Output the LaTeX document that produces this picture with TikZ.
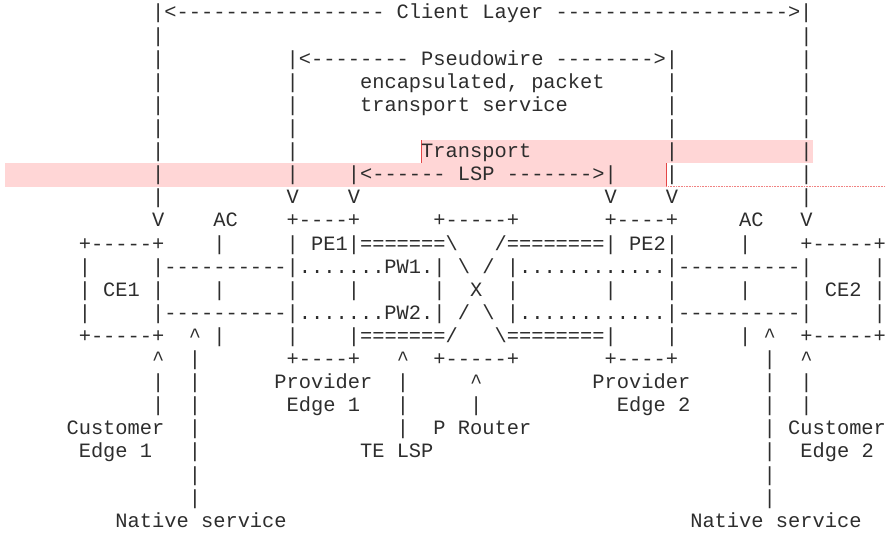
\documentclass[tikz,border=0pt]{standalone}
\usepackage{fontspec}
\setmonofont{Liberation Mono}[Ligatures=TeXOff]

\definecolor{inkgray}{RGB}{45,45,45}
\definecolor{markpink}{RGB}{255,214,214}
\definecolor{markred}{RGB}{228,70,70}
\definecolor{markline}{RGB}{240,130,130}

% one character cell of the monospaced grid
\newcommand\cellw{12.23}
\newcommand\rowh{23.1}
% \seg{row}{column}{text}: text starting in a grid cell, on that row's baseline
\newcommand\seg[3]{\node[ascii] (r#1c#2) at ({5.4+#2*\cellw},{19+(#1-1)*\rowh}) {#3};}
\newcommand\bs{\textbackslash}
\newcommand\up{\textasciicircum}

\begin{document}
\begin{tikzpicture}[x=1pt,y=-1pt,
  ascii/.style={anchor=base west,inner sep=0pt,outer sep=0pt,text=inkgray,
    font=\ttfamily\fontsize{20.38}{23.1}\selectfont}]
\useasboundingbox (0,0) rectangle (886,535);

% marked (highlighted) text runs
\fill[markpink] (421.2,140.3) rectangle (812.6,163.4);
\fill[markpink] (5,163.4) rectangle (665.8,186.7);
\draw[markred,line width=1.4pt] (421.6,140.3) -- (421.6,163.4);
\draw[markred,line width=1.4pt] (666.3,163.4) -- (666.3,186.7);
\draw[markline,line width=0.7pt,dash pattern=on 1pt off 0.6pt] (666.3,186.4) -- (886,186.4);

% row 1-9: layers above the network
\seg{1}{12}{|<----------------- Client Layer ------------------->|}
\seg{2}{12}{|}\seg{2}{65}{|}
\seg{3}{12}{|}\seg{3}{23}{|<-------- Pseudowire -------->|}\seg{3}{65}{|}
\seg{4}{12}{|}\seg{4}{23}{|}\seg{4}{29}{encapsulated,\ packet}\seg{4}{54}{|}\seg{4}{65}{|}
\seg{5}{12}{|}\seg{5}{23}{|}\seg{5}{29}{transport service}\seg{5}{54}{|}\seg{5}{65}{|}
\seg{6}{12}{|}\seg{6}{23}{|}\seg{6}{54}{|}\seg{6}{65}{|}
\seg{7}{12}{|}\seg{7}{23}{|}\seg{7}{34}{Transport}\seg{7}{54}{|}\seg{7}{65}{|}
\seg{8}{12}{|}\seg{8}{23}{|}\seg{8}{28}{|<------ LSP ------->|}\seg{8}{54}{|}\seg{8}{65}{|}
\seg{9}{12}{|}\seg{9}{23}{V}\seg{9}{28}{V}\seg{9}{49}{V}\seg{9}{54}{V}\seg{9}{65}{|}

% rows 10-16: CE, PE and P boxes
\seg{10}{12}{V}\seg{10}{17}{AC}\seg{10}{23}{+----+}\seg{10}{35}{+-----+}
\seg{10}{49}{+----+}\seg{10}{60}{AC}\seg{10}{65}{V}

\seg{11}{6}{+-----+}\seg{11}{17}{|}\seg{11}{23}{| PE1|=======\bs}
\seg{11}{40}{/========| PE2|}\seg{11}{60}{|}\seg{11}{65}{+-----+}

\seg{12}{6}{|}\seg{12}{12}{|----------|.......PW1.|}\seg{12}{37}{\bs}\seg{12}{39}{/}
\seg{12}{41}{|............|----------|}\seg{12}{71}{|}

\seg{13}{6}{| CE1 |}\seg{13}{17}{|}\seg{13}{23}{|}\seg{13}{28}{|}\seg{13}{35}{|}
\seg{13}{38}{X}\seg{13}{41}{|}\seg{13}{49}{|}\seg{13}{54}{|}\seg{13}{60}{|}
\seg{13}{65}{| CE2 |}

\seg{14}{6}{|}\seg{14}{12}{|----------|.......PW2.|}\seg{14}{37}{/}\seg{14}{39}{\bs}
\seg{14}{41}{|............|----------|}\seg{14}{71}{|}

\seg{15}{6}{+-----+}\seg{15}{15}{\up}\seg{15}{17}{|}\seg{15}{23}{|}
\seg{15}{28}{|=======/}\seg{15}{40}{\bs========|}\seg{15}{54}{|}\seg{15}{60}{|}
\seg{15}{62}{\up}\seg{15}{65}{+-----+}

\seg{16}{12}{\up}\seg{16}{15}{|}\seg{16}{23}{+----+}\seg{16}{32}{\up}
\seg{16}{35}{+-----+}\seg{16}{49}{+----+}\seg{16}{62}{|}\seg{16}{65}{\up}

% rows 17-23: labels
\seg{17}{12}{|}\seg{17}{15}{|}\seg{17}{22}{Provider}\seg{17}{32}{|}\seg{17}{38}{\up}
\seg{17}{48}{Provider}\seg{17}{62}{|}\seg{17}{65}{|}

\seg{18}{12}{|}\seg{18}{15}{|}\seg{18}{23}{Edge 1}\seg{18}{32}{|}\seg{18}{38}{|}
\seg{18}{50}{Edge 2}\seg{18}{62}{|}\seg{18}{65}{|}

\seg{19}{5}{Customer}\seg{19}{15}{|}\seg{19}{32}{|}\seg{19}{35}{P Router}
\seg{19}{62}{|}\seg{19}{64}{Customer}

\seg{20}{6}{Edge 1}\seg{20}{15}{|}\seg{20}{29}{TE LSP}\seg{20}{62}{|}\seg{20}{65}{Edge 2}

\seg{21}{15}{|}\seg{21}{62}{|}
\seg{22}{15}{|}\seg{22}{62}{|}

\seg{23}{9}{Native service}\seg{23}{56}{Native service}
\end{tikzpicture}
\end{document}
